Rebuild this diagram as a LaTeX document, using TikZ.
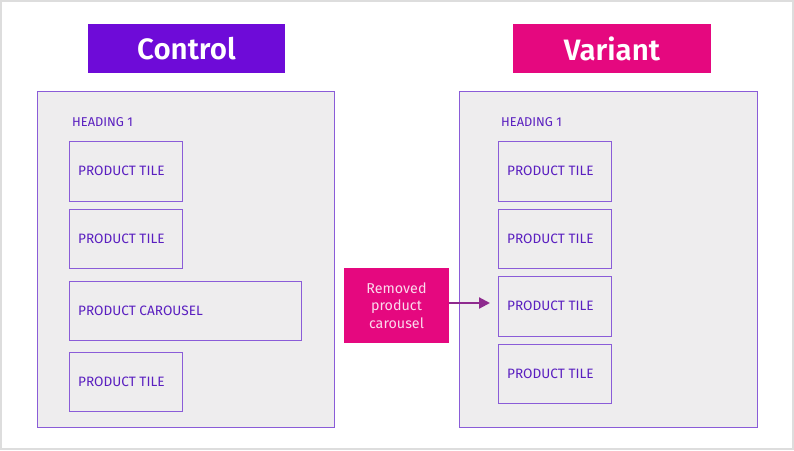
\documentclass[tikz,border=0pt]{standalone}
\usepackage{fontspec}
\setmainfont{Fira Sans}
\newfontfamily\headfont{Fira Sans SemiBold}
\usetikzlibrary{arrows.meta}
\definecolor{ctrl}{HTML}{6E0BD8}
\definecolor{vari}{HTML}{E5087F}
\definecolor{panelfill}{HTML}{EEEDEE}
\definecolor{panelline}{HTML}{8A5CD8}
\definecolor{tiletext}{HTML}{5A1FC0}
\definecolor{arrowc}{HTML}{8E2A8E}
\definecolor{frame}{HTML}{DDDDDD}
\tikzset{
  px/.style={x=1pt,y=-1pt},
  header/.style={inner sep=0pt,text=white,font=\headfont\fontsize{29.5}{31}\selectfont},
  panel/.style={draw=panelline,line width=1pt,fill=panelfill},
  tile/.style={draw=panelline,line width=0.9pt,fill=panelfill},
  tilelabel/.style={anchor=west,text=tiletext,font=\fontsize{13.6}{15}\selectfont,inner sep=0pt},
  headlabel/.style={anchor=west,text=tiletext,font=\fontsize{12.8}{14}\selectfont,inner sep=0pt},
  note/.style={fill=vari,text=white!85!vari,align=center,font=\fontsize{14.3}{17.5}\selectfont,inner sep=0pt}
}
\begin{document}
\begin{tikzpicture}[px]
\useasboundingbox (0,0) rectangle (794,450);
\draw[frame,line width=2pt,fill=white] (1,1) rectangle (793,449);
% headers
\fill[ctrl] (88,24) rectangle (285,73);
\node[header] (ctrlh) at (186.5,48.5) {Control};
\fill[vari] (513,24) rectangle (711,73);
\node[header] (varh) at (612,48.5) {Variant};
% panels
\draw[panel] (37,91) rectangle (334,427);
\draw[panel] (459,91) rectangle (757,427);
\node[headlabel] (lh) at (72,122) {HEADING 1};
\node[headlabel] (rh) at (501,122) {HEADING 1};
% left tiles
\draw[tile] (69,141) rectangle (182,201);
\node[tilelabel] (l1) at (78,171) {PRODUCT TILE};
\draw[tile] (69,209) rectangle (182,268);
\node[tilelabel] (l2) at (78,239) {PRODUCT TILE};
\draw[tile] (69,281) rectangle (301,340);
\node[tilelabel] (l3) at (78,311) {PRODUCT CAROUSEL};
\draw[tile] (69,352) rectangle (182,411);
\node[tilelabel] (l4) at (78,382) {PRODUCT TILE};
% right tiles
\draw[tile] (498,141) rectangle (611,201);
\node[tilelabel] (r1) at (507,171) {PRODUCT TILE};
\draw[tile] (498,209) rectangle (611,268);
\node[tilelabel] (r2) at (507,239) {PRODUCT TILE};
\draw[tile] (498,276) rectangle (611,336);
\node[tilelabel] (r3) at (507,306) {PRODUCT TILE};
\coordinate (r3w) at (490,303);
\draw[tile] (498,344) rectangle (611,403);
\node[tilelabel] (r4) at (507,374) {PRODUCT TILE};
% note
\node[note,minimum width=105pt,minimum height=75pt] (rem) at (396.5,305.5) {Removed\\product\\carousel};
\draw[arrowc,line width=2.2pt,-{Triangle[length=11pt,width=11pt]}] (rem.east|-r3w) -- (r3w);
\end{tikzpicture}
\end{document}
